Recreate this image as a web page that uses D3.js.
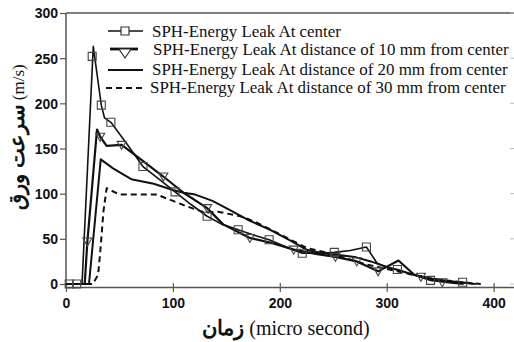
<!DOCTYPE html>
<html>
<head>
<meta charset="utf-8">
<script src="https://cdn.jsdelivr.net/npm/d3@7"></script>
<style>
  html, body { margin: 0; padding: 0; background: #fff; }
  svg { display: block; }
</style>
</head>
<body>
<svg id="chart" width="514" height="342"></svg>
<script>
// ---- data ----
const xTicks = [0, 100, 200, 300, 400];
const yTicks = [0, 50, 100, 150, 200, 250, 300];

const seriesNames = [
  "SPH-Energy Leak At center",
  "SPH-Energy Leak At distance of 10 mm from center",
  "SPH-Energy Leak At distance of 20 mm from center",
  "SPH-Energy Leak At distance of 30 mm from center"
];

// center
const t1 = [0, 5, 10, 15, 25.5, 33, 36, 42, 57, 72, 87, 102, 117, 132, 146, 161, 176, 190, 206, 221, 236, 251, 266, 281, 291, 301, 310, 326, 341, 356, 371, 384];
const v1 = [0, 0, 0, 0, 263, 198, 184, 179, 155, 130, 116, 102, 88, 75, 66, 60, 54, 49, 41, 34, 34, 35, 37, 41, 23, 18, 16, 10, 4, 2, 2, 0];
const m1t = [3, 10, 24.5, 33, 42, 72, 102, 132, 161, 190, 221, 251, 281, 310, 341, 371];
const m1v = [0, 0, 252, 198, 179, 130, 102, 75, 60, 49, 34, 35, 41, 16, 4, 2];

// 10 mm
const t2 = [0, 17.5, 20, 29, 32, 38, 52, 70, 91, 110, 132, 147, 172, 194, 213, 235, 252, 272, 292, 311, 326, 341, 356, 372];
const v2 = [0, 0, 47, 171, 163, 153, 154, 138, 119, 101, 84, 66, 51, 45, 38, 33, 30, 25, 14, 26, 10, 6, 2, 0];
const m2t = [20, 32, 52, 91, 132, 172, 213, 252, 272, 292, 332, 352];
const m2v = [47, 163, 154, 119, 84, 51, 38, 30, 25, 14, 8, 2];

// 20 mm
const t3 = [0, 21.5, 32.5, 44, 61, 82, 100, 110, 121, 137, 153, 172, 191, 210, 225, 240, 255, 270, 285, 300, 320, 340, 360, 382];
const v3 = [0, 0, 138, 128, 116, 111, 104, 101, 99, 92, 82, 70, 60, 48, 38, 34, 32, 30, 25, 19, 12, 6, 3, 0];

// 30 mm
const t4 = [0, 25, 30, 32, 35, 38, 50, 70, 85, 100, 113, 130, 142, 163, 177, 200, 225, 250, 280, 310, 340, 370, 388];
const v4 = [0, 0, 10, 35, 80, 106, 99, 99, 99, 92, 86, 79, 80, 75, 69, 55, 40, 33, 22, 14, 6, 2, 0];

const xTitleFa = "زمان";
const xTitleEn = " (micro second)";
const yTitleFa = "سرعت ورق";
const yTitleEn = " (m/s)";

// ---- drawing ----
const svg = d3.select("#chart");
const x = d3.scaleLinear().domain([0, 420]).range([66, 515]);
const y = d3.scaleLinear().domain([0, 300]).range([284, 13]);
const axisY0 = 287;
const ink = "#111";
const axisColor = "#555";
const serif = "Liberation Serif, 'Times New Roman', serif";

// frame: top border and right border
svg.append("line").attr("x1", x(0)).attr("x2", x(420)).attr("y1", y(300)).attr("y2", y(300))
  .attr("stroke", axisColor).attr("stroke-width", 1.3);
svg.append("line").attr("x1", x(420)).attr("x2", x(420)).attr("y1", y(300)).attr("y2", axisY0)
  .attr("stroke", axisColor).attr("stroke-width", 1.3);
yTicks.forEach(v => {
  svg.append("line").attr("x1", x(420) - 5).attr("x2", x(420)).attr("y1", y(v)).attr("y2", y(v))
    .attr("stroke", "#bbb").attr("stroke-width", 1);
});

// x axis
const gx = svg.append("g").attr("transform", `translate(0,${axisY0})`)
  .call(d3.axisBottom(x).tickValues(xTicks).tickSize(5).tickSizeOuter(0).tickFormat(d3.format("d")));
gx.select(".domain").attr("stroke", axisColor).attr("stroke-width", 1.5);
gx.selectAll(".tick line").attr("stroke", axisColor).attr("stroke-width", 1.2).attr("y1", -4);
gx.selectAll(".tick text").attr("fill", "#111").attr("font-family", "Liberation Sans, Arial, sans-serif")
  .attr("font-size", 14).attr("font-weight", "bold").attr("dy", "0.95em");

// y axis
const gy = svg.append("g").attr("transform", `translate(${x(0)},0)`)
  .call(d3.axisLeft(y).tickValues(yTicks).tickSize(6).tickSizeOuter(0).tickFormat(d3.format("d")));
gy.select(".domain").attr("stroke", axisColor).attr("stroke-width", 1.5).attr("d", `M0,${y(300)}V${axisY0}`);
gy.selectAll(".tick line").attr("stroke", axisColor).attr("stroke-width", 1.2);
gy.selectAll(".tick text").attr("fill", "#111").attr("font-family", "Liberation Sans, Arial, sans-serif")
  .attr("font-size", 14).attr("font-weight", "bold").attr("x", -8).attr("dy", "0.35em");

// lines
const line = d3.line().x(d => x(d[0])).y(d => y(d[1]));
const zip = (a, b) => a.map((v, i) => [v, b[i]]);
const series = [
  { pts: zip(t1, v1), w: 1.6, dash: null },
  { pts: zip(t2, v2), w: 2.2, dash: null },
  { pts: zip(t3, v3), w: 2.0, dash: null },
  { pts: zip(t4, v4), w: 2.0, dash: "6,4" }
];
series.forEach(s => {
  svg.append("path").datum(s.pts).attr("d", line).attr("fill", "none")
    .attr("stroke", ink).attr("stroke-width", s.w).attr("stroke-linejoin", "round")
    .attr("stroke-dasharray", s.dash);
});

// markers
const sq = 8;
const squarePath = (cx, cy) => `M${cx - sq / 2},${cy - sq / 2}h${sq}v${sq}h${-sq}Z`;
const triPath = (cx, cy) => `M${cx - 4.5},${cy - 3.5}h9l-4.5,8Z`;
svg.append("g").selectAll("path").data(zip(m1t, m1v)).join("path")
  .attr("d", d => squarePath(x(d[0]), y(d[1])))
  .attr("fill", "none").attr("stroke", "#444").attr("stroke-width", 1.1);
svg.append("g").selectAll("path").data(zip(m2t, m2v)).join("path")
  .attr("d", d => triPath(x(d[0]), y(d[1])))
  .attr("fill", "none").attr("stroke", "#444").attr("stroke-width", 1.1);

// legend
const legendRows = [
  { ly: 31, x1: 108, x2: 143, tx: 152, ty: 37, w: 1.6, dash: null, mk: "sq" },
  { ly: 49, x1: 110, x2: 138, tx: 153, ty: 55, w: 2.8, dash: null, mk: "tri" },
  { ly: 70, x1: 108, x2: 143, tx: 152, ty: 75, w: 2.0, dash: null, mk: null },
  { ly: 88, x1: 106, x2: 143, tx: 150, ty: 93, w: 2.0, dash: "6,4", mk: null }
];
const targetW = 356;
legendRows.forEach((r, i) => {
  svg.append("line").attr("x1", r.x1).attr("x2", r.x2).attr("y1", r.ly).attr("y2", r.ly)
    .attr("stroke", ink).attr("stroke-width", r.w).attr("stroke-dasharray", r.dash);
  if (r.mk === "sq") {
    svg.append("path").attr("d", squarePath(125, r.ly)).attr("fill", "#fff").attr("stroke", "#333").attr("stroke-width", 1.2);
  } else if (r.mk === "tri") {
    svg.append("path").attr("d", `M${119},${r.ly}h12l-6,9Z`).attr("fill", "#fff").attr("stroke", "#333").attr("stroke-width", 1.2);
  }
  r.node = svg.append("text").attr("x", r.tx).attr("y", r.ty)
    .attr("font-family", serif).attr("font-size", 16)
    .attr("fill", "#111").text(seriesNames[i]);
});
const w1 = legendRows[1].node.node().getComputedTextLength();
const fs = 16 * targetW / w1;
legendRows.forEach(r => r.node.attr("font-size", fs));

// x axis title
const xt = svg.append("text").attr("x", 286).attr("y", 335).attr("text-anchor", "middle")
  .attr("font-family", serif).attr("fill", "#111").attr("direction", "ltr").style("unicode-bidi", "embed");
xt.append("tspan").attr("font-size", 21).attr("font-weight", "bold").text(xTitleFa);
xt.append("tspan").attr("font-size", 20).text(xTitleEn);

// y axis title
const yt = svg.append("text").attr("transform", "translate(24,137) rotate(-90)").attr("text-anchor", "middle")
  .attr("font-family", serif).attr("fill", "#111").attr("direction", "ltr").style("unicode-bidi", "embed");
yt.append("tspan").attr("font-size", 21).attr("font-weight", "bold").text(yTitleFa);
yt.append("tspan").attr("font-size", 17).text(yTitleEn);
</script>
</body>
</html>
